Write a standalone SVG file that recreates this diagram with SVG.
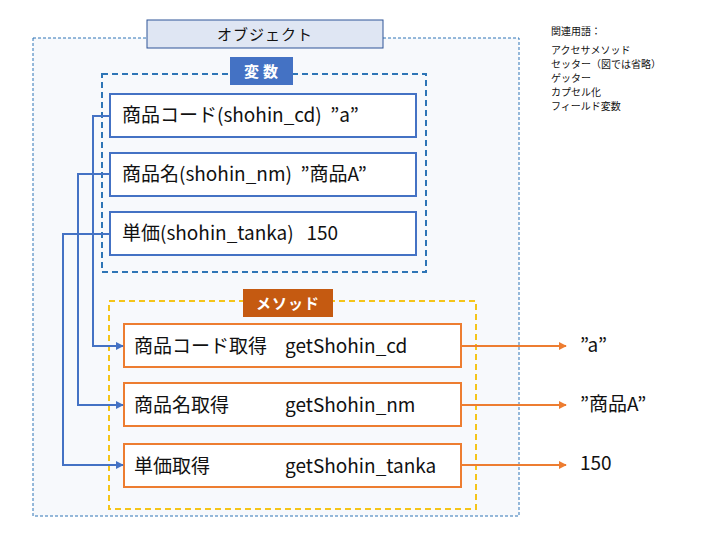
<svg xmlns="http://www.w3.org/2000/svg" width="720" height="540" viewBox="0 0 720 540">
<style>
text{font-family:"Noto Sans CJK JP","Noto Sans",sans-serif;fill:#111}
.v{fill:#fff;stroke:#4472c4;stroke-width:2}
.m{fill:#fff;stroke:#ed7d31;stroke-width:2}
.t{font-size:19px}
.bl{stroke:#4472c4;stroke-width:2;fill:none}
.or{stroke:#ed7d31;stroke-width:2;fill:none}
</style>
<defs>
<marker id="ab" viewBox="0 0 10 10" refX="9" refY="5" markerWidth="4" markerHeight="4" orient="auto"><path d="M0,0L10,5L0,10z" fill="#4472c4"/></marker>
<marker id="ao" viewBox="0 0 10 10" refX="9" refY="5" markerWidth="4" markerHeight="4" orient="auto"><path d="M0,0L10,5L0,10z" fill="#ed7d31"/></marker>
</defs>
<rect width="720" height="540" fill="#fff"/>
<g id="object">
<rect x="33" y="38" width="486" height="478" fill="#f7f9fc" stroke="#2e75b6" stroke-width="1" stroke-dasharray="3,2"/>
<rect x="147" y="20" width="236" height="28" fill="#dfe6f3" stroke="#2f5597" stroke-width="1"/>
<text x="265" y="40" font-size="15" text-anchor="middle" letter-spacing="1">オブジェクト</text>
</g>
<g id="vars">
<rect x="102" y="74" width="324" height="198" fill="none" stroke="#2e75b6" stroke-width="2" stroke-dasharray="6,4"/>
<rect x="230" y="57" width="63" height="28" fill="#4472c4"/>
<text x="263" y="77" font-size="15" font-weight="bold" text-anchor="middle" style="fill:#fff" letter-spacing="4">変数</text>
</g>
<g id="v1"><rect class="v" x="110" y="94" width="306" height="43"/><text class="t" x="122" y="122" xml:space="preserve">商品コード(shohin_cd)  ”a”</text></g>
<g id="v2"><rect class="v" x="110" y="153" width="306" height="43"/><text class="t" x="122" y="181" xml:space="preserve">商品名(shohin_nm)  ”商品A”</text></g>
<g id="v3"><rect class="v" x="110" y="212" width="306" height="43"/><text class="t" x="122" y="240" xml:space="preserve">単価(shohin_tanka)   150</text></g>
<g id="methods">
<rect x="109" y="301" width="367" height="208" fill="none" stroke="#f5c518" stroke-width="2" stroke-dasharray="6,4"/>
<rect x="243" y="289" width="90" height="28" fill="#c55a11"/>
<text x="288" y="309" font-size="15" font-weight="bold" text-anchor="middle" style="fill:#fff" letter-spacing="1">メソッド</text>
</g>
<g id="m1"><rect class="m" x="124" y="324" width="337" height="43"/><text class="t" x="134" y="353">商品コード取得</text><text class="t" x="285" y="353">getShohin_cd</text></g>
<g id="m2"><rect class="m" x="124" y="383" width="337" height="43"/><text class="t" x="134" y="412">商品名取得</text><text class="t" x="285" y="412">getShohin_nm</text></g>
<g id="m3"><rect class="m" x="124" y="444" width="337" height="43"/><text class="t" x="134" y="473">単価取得</text><text class="t" x="285" y="473">getShohin_tanka</text></g>
<g id="connectors">
<path class="bl" d="M110,116H93V346H123" marker-end="url(#ab)"/>
<path class="bl" d="M110,174H78V405H123" marker-end="url(#ab)"/>
<path class="bl" d="M110,234H63V465H123" marker-end="url(#ab)"/>
<path class="or" d="M461,346H566" marker-end="url(#ao)"/>
<path class="or" d="M461,405H566" marker-end="url(#ao)"/>
<path class="or" d="M461,465H566" marker-end="url(#ao)"/>
</g>
<text class="t" x="580" y="352">”a”</text>
<text class="t" x="580" y="411">”商品A”</text>
<text class="t" x="580" y="470">150</text>
<g font-size="10">
<text x="551" y="35">関連用語：</text>
<text x="551" y="54">アクセサメソッド</text>
<text x="551" y="68">セッター（図では省略）</text>
<text x="551" y="82">ゲッター</text>
<text x="551" y="96">カプセル化</text>
<text x="551" y="110">フィールド変数</text>
</g>
</svg>
